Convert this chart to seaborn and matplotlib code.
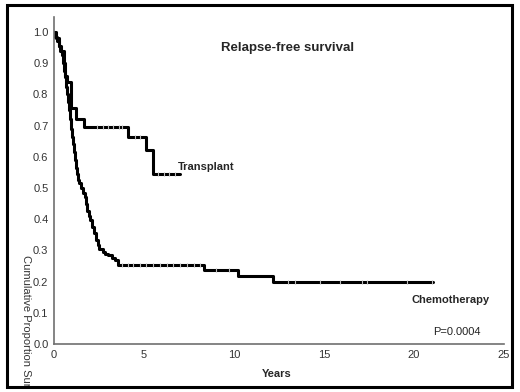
import numpy as np
import pandas as pd
import seaborn as sns
import matplotlib.pyplot as plt
from matplotlib.patches import Rectangle
from matplotlib.transforms import Bbox, TransformedBbox

# Curvas de sobrevida (tempo em anos, proporcao acumulada)
transplant_t = [0, 0.1, 0.25, 0.4, 0.55, 0.62, 0.7, 0.93, 1.22, 1.69, 4.09, 5.09, 5.5, 7.0]
transplant_s = [1.0, 0.98, 0.955, 0.94, 0.90, 0.86, 0.84, 0.757, 0.722, 0.697, 0.664, 0.622, 0.545, 0.545]

chemo_t = [0, 0.08, 0.15, 0.25, 0.35, 0.43, 0.5, 0.55, 0.6, 0.67, 0.72, 0.78, 0.83, 0.89,
           0.95, 1.0, 1.06, 1.13, 1.18, 1.22, 1.27, 1.31, 1.4, 1.5, 1.6, 1.72, 1.78, 1.85,
           1.93, 2.0, 2.1, 2.2, 2.33, 2.42, 2.52, 2.7, 2.85, 3.02, 3.2, 3.39, 3.57, 8.35,
           10.2, 12.15, 21.07]
chemo_s = [1.0, 0.985, 0.97, 0.955, 0.94, 0.925, 0.9, 0.875, 0.855, 0.825, 0.80, 0.775, 0.75, 0.72,
           0.69, 0.665, 0.64, 0.615, 0.59, 0.565, 0.545, 0.526, 0.515, 0.50, 0.485, 0.472, 0.45, 0.425,
           0.41, 0.397, 0.375, 0.355, 0.333, 0.318, 0.306, 0.295, 0.29, 0.285, 0.275, 0.269, 0.253, 0.237,
           0.218, 0.2, 0.2]

# Censuras (marcas pequenas sobre a linha)
transplant_cens_t = [2.4, 2.7, 3.0, 3.3, 3.6, 3.8, 4.5, 4.8, 5.8, 6.1, 6.4, 6.7]
transplant_cens_s = [0.697, 0.697, 0.697, 0.697, 0.697, 0.697, 0.664, 0.664, 0.545, 0.545, 0.545, 0.545]
chemo_cens_t = [3.8, 4.1, 4.4, 4.8, 5.1, 5.5, 5.9, 6.3, 6.6, 7.0, 7.4, 7.8, 8.1, 9.0, 9.7,
                13.0, 13.4, 14.8, 15.9, 17.1, 17.4, 19.6, 21.0]
chemo_cens_s = [0.253] * 13 + [0.237, 0.237] + [0.2] * 8

years = [0, 5, 10, 15, 20, 25]
props = [0.0, 0.1, 0.2, 0.3, 0.4, 0.5, 0.6, 0.7, 0.8, 0.9, 1.0]

sns.set_style('white')
plt.rcParams['font.family'] = ['Liberation Sans', 'DejaVu Sans']

fig = plt.figure(figsize=(5.2, 3.92), dpi=100)
ax = fig.add_axes([54 / 520, 1 - 344 / 392, 450 / 520, 327 / 392])

df_tr = pd.DataFrame({'t': transplant_t, 's': transplant_s})
df_ch = pd.DataFrame({'t': chemo_t, 's': chemo_s})
sns.lineplot(data=df_tr, x='t', y='s', drawstyle='steps-post', estimator=None, sort=False,
             color='black', linewidth=2.2, ax=ax)
sns.lineplot(data=df_ch, x='t', y='s', drawstyle='steps-post', estimator=None, sort=False,
             color='black', linewidth=2.2, ax=ax)

ax.plot(transplant_cens_t, transplant_cens_s, ls='none', marker='|', color='#bbbbbb',
        markersize=2.5, markeredgewidth=0.8)
ax.plot(chemo_cens_t, chemo_cens_s, ls='none', marker='|', color='#bbbbbb',
        markersize=2.5, markeredgewidth=0.8)

ax.set_xlim(0, 25)
ax.set_ylim(0, 1.048)
ax.set_xticks(years)
ax.set_xticklabels([str(y) for y in years])
ax.set_yticks(props)
ax.set_yticklabels([f'{p:.1f}' for p in props])
ax.set_xlabel('')
ax.set_ylabel('')
ax.tick_params(axis='both', direction='in', length=3, width=1, color='#707070',
               labelsize=8, labelcolor='#333333', pad=4)
sns.despine(ax=ax)
for side in ['left', 'bottom']:
    ax.spines[side].set_color('#707070')
    ax.spines[side].set_linewidth(1.2)

# Textos
fig.text(288 / 520, 1 - 48 / 392, 'Relapse-free survival', fontsize=9.5, fontweight='bold',
         ha='center', va='center')
fig.text(178 / 520, 1 - 167 / 392, 'Transplant', fontsize=8, fontweight='bold', ha='left', va='center')
fig.text(411 / 520, 1 - 300 / 392, 'Chemotherapy', fontsize=8, fontweight='bold', ha='left', va='center')
fig.text(433 / 520, 1 - 332 / 392, 'P=0.0004', fontsize=8, ha='left', va='center', color='#222222')
fig.text(277 / 520, 1 - 374 / 392, 'Years', fontsize=8, fontweight='bold', ha='center', va='center')

# Rotulo do eixo y cortado pela moldura, como no original
ylab = fig.text(26 / 520, 1 - 255 / 392, 'Cumulative Proportion Surviving', fontsize=8,
                rotation=270, ha='center', va='top', color='#333333')
ylab.set_clip_on(True)
ylab.set_clip_box(TransformedBbox(Bbox([[0, 6 / 392], [1, 1]]), fig.transFigure))

# Moldura em volta da figura
fig.patches.append(Rectangle((7 / 520, 1 - 387 / 392), 505 / 520, 382 / 392, transform=fig.transFigure,
                             fill=False, edgecolor='black', linewidth=2.2, zorder=10))

plt.savefig('out.png', dpi=100)
